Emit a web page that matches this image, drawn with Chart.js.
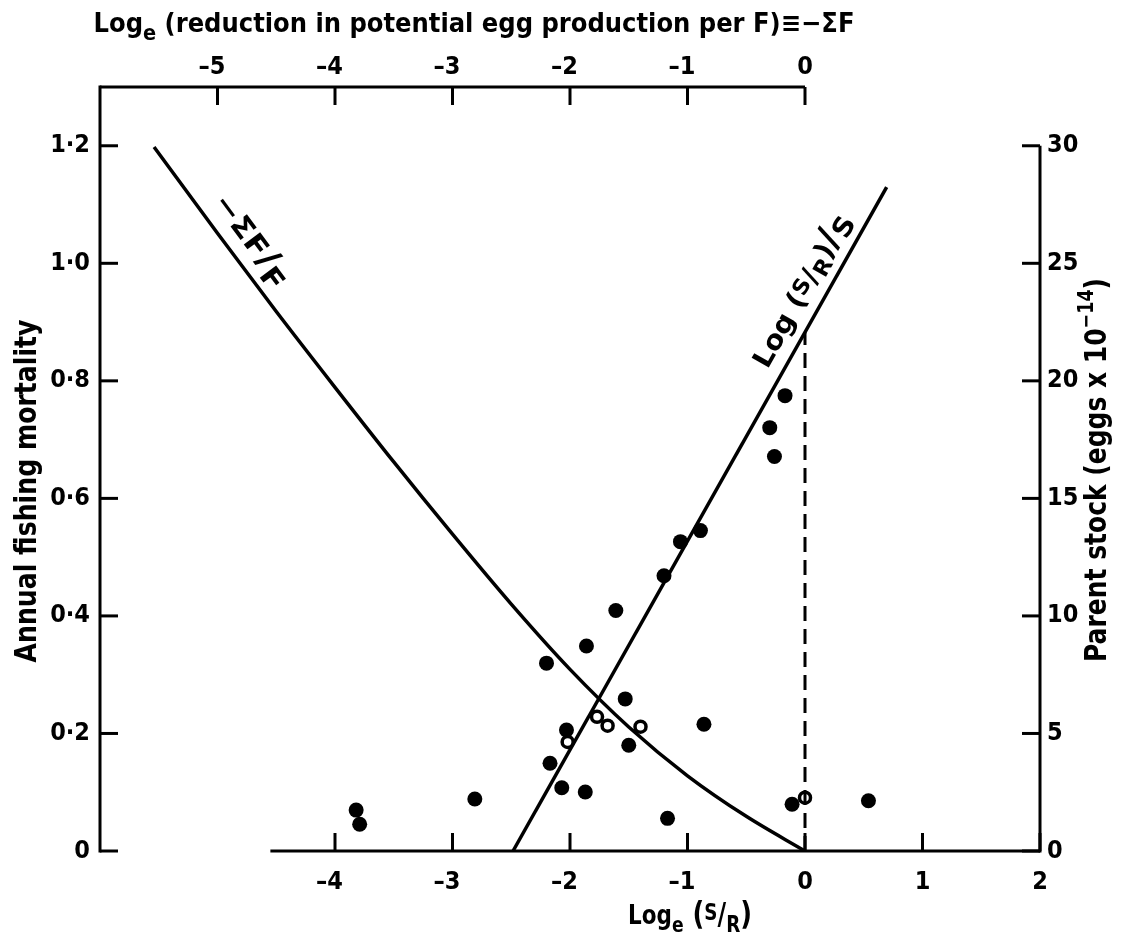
<!DOCTYPE html>
<html>
<head>
<meta charset="utf-8">
<script src="https://cdn.jsdelivr.net/npm/chart.js@4.4.1/dist/chart.umd.min.js"></script>
<style>
  html, body { margin: 0; padding: 0; background: #fff; }
  #wrap { width: 1129px; height: 948px; }
</style>
</head>
<body>
<div id="wrap"><canvas id="stockChart"></canvas></div>
<script>
// -ΣF/F curve: x = -ΣF (top axis), y = annual fishing mortality (left axis)
const sumFX = [-5.54, -5.0, -4.5, -4.0, -3.5, -3.0, -2.5, -2.0, -1.5, -1.0, -0.5, 0];
const sumFY = [1.198, 1.051, 0.918, 0.789, 0.662, 0.539, 0.420, 0.309, 0.211, 0.128, 0.059, 0];

// Log(S/R)/S line: x = loge(S/R), y = parent stock (right axis)
const lineX = [-2.485, 0.695];
const lineY = [0, 28.24];

// dashed marker at loge(S/R) = 0
const dashX = [0, 0];
const dashY = [0, 22.07];

// observed years, filled circles
const solidX = [-3.82, -3.79, -2.81, -2.20, -2.17, -2.07, -2.03, -1.87, -1.86, -1.61, -1.53,
                -1.50, -1.20, -1.17, -1.06, -0.89, -0.86, -0.30, -0.26, -0.17, -0.11, 0.54];
const solidY = [1.74, 1.14, 2.21, 7.99, 3.73, 2.69, 5.15, 2.51, 8.72, 10.23, 6.47,
                4.50, 11.71, 1.39, 13.16, 13.63, 5.39, 18.01, 16.78, 19.37, 1.99, 2.14];

// open circles
const openX = [-2.02, -1.77, -1.68, -1.40, 0];
const openY = [4.64, 5.71, 5.33, 5.29, 2.27];

// tick values
const bottomTicks = [-4, -3, -2, -1, 0, 1, 2];
const topTicks = [-5, -4, -3, -2, -1, 0];
const leftTicks = [0, 0.2, 0.4, 0.6, 0.8, 1.0, 1.2];
const rightTicks = [0, 5, 10, 15, 20, 25, 30];

const FONT = '"DejaVu Sans Condensed", "DejaVu Sans", sans-serif';
const tickFont = { family: FONT, size: 25, weight: 'bold' };

const pts = (xs, ys) => xs.map((v, i) => ({ x: v, y: ys[i] }));
const signed = v => v < 0 ? '\u2013' + Math.abs(v) + '\u2002' : String(v);
const dotted = v => v === 0 ? '0' : v.toFixed(1).replace('.', '\u00b7');

// text with sub/superscripts, squeezed to a given width
function drawRich(ctx, parts, cx, cy, angle, size, width) {
    ctx.save();
    ctx.translate(cx, cy);
    ctx.rotate(angle);
    let total = 0;
    parts.forEach(p => {
        ctx.font = `bold ${size * (p.s || 1)}px ${FONT}`;
        p.w = ctx.measureText(p.t).width;
        total += p.w;
    });
    if (width) ctx.scale(width / total, 1);
    ctx.textAlign = 'left';
    ctx.textBaseline = 'alphabetic';
    ctx.fillStyle = '#000';
    let x = -total / 2;
    parts.forEach(p => {
        ctx.font = `bold ${size * (p.s || 1)}px ${FONT}`;
        ctx.fillText(p.t, x, size * 0.36 + (p.dy || 0) * size);
        x += p.w;
    });
    ctx.restore();
}

const frame = {
    id: 'frame',
    afterDraw(chart) {
        const { ctx } = chart;
        const { x, xTop, y, yR } = chart.scales;
        const TL = 18;
        ctx.save();
        ctx.strokeStyle = '#000';
        ctx.lineWidth = 3;
        const seg = (x1, y1, x2, y2) => {
            ctx.beginPath(); ctx.moveTo(x1, y1); ctx.lineTo(x2, y2); ctx.stroke();
        };
        const y0 = y.getPixelForValue(0);
        const yTop = y.getPixelForValue(1.3);
        const xl = x.getPixelForValue(-6);
        const xr = x.getPixelForValue(2);

        // axis lines (partial, as in the original)
        seg(x.getPixelForValue(-4.55), y0, xr, y0);
        seg(xl, yTop, xTop.getPixelForValue(0), yTop);
        seg(xl, y0 + 1.5, xl, yTop - 1.5);
        seg(xr, y0 + 1.5, xr, yR.getPixelForValue(30));

        // inward tick marks
        x.ticks.forEach(t => { const p = x.getPixelForValue(t.value); seg(p, y0, p, y0 - TL); });
        xTop.ticks.forEach(t => { const p = xTop.getPixelForValue(t.value); seg(p, yTop, p, yTop + TL); });
        y.ticks.forEach(t => { const p = y.getPixelForValue(t.value); seg(xl, p, xl + TL, p); });
        yR.ticks.forEach(t => { const p = yR.getPixelForValue(t.value); seg(xr, p, xr - TL, p); });
        ctx.restore();

        // axis titles
        drawRich(ctx, [
            { t: 'Log' }, { t: 'e', s: 0.8, dy: 0.32 },
            { t: ' (reduction in potential egg production per F)\u2261\u2212\u03a3F' }
        ], 474, 22, 0, 27, 761);
        drawRich(ctx, [
            { t: 'Log' }, { t: 'e', s: 0.8, dy: 0.32 }, { t: ' (', s: 1.2 },
            { t: 'S', s: 0.85, dy: -0.12 }, { t: '/', s: 1.1 }, { t: 'R', s: 0.85, dy: 0.3 },
            { t: ')', s: 1.2 }
        ], 690, 914, 0, 27, 124);
        drawRich(ctx, [{ t: 'Annual fishing mortality' }], 25, 491, -Math.PI / 2, 30, 343);
        drawRich(ctx, [
            { t: 'Parent stock (eggs x 10' }, { t: '\u221214', s: 0.7, dy: -0.42 }, { t: ')' }
        ], 1095, 470, -Math.PI / 2, 30, 384);

        // curve labels, placed beside the curves
        const px = (sc, v) => sc.getPixelForValue(v);
        const a1 = Math.atan2(px(y, sumFY[2]) - px(y, sumFY[0]), px(xTop, sumFX[2]) - px(xTop, sumFX[0]));
        const c1x = px(xTop, -4.85), c1y = px(y, 1.018);
        drawRich(ctx, [
            { t: '\u2212\u03a3F' }, { t: '/', s: 1.2 }, { t: 'F', dy: 0.25 }
        ], c1x + 22 * Math.sin(a1), c1y - 22 * Math.cos(a1), a1, 28, 108);

        const a2 = Math.atan2(px(yR, lineY[1]) - px(yR, lineY[0]), px(x, lineX[1]) - px(x, lineX[0]));
        const lx = 0.146, ly = lineY[0] + (lx - lineX[0]) * (lineY[1] - lineY[0]) / (lineX[1] - lineX[0]);
        const c2x = px(x, lx), c2y = px(yR, ly);
        drawRich(ctx, [
            { t: 'Log (' }, { t: 'S', s: 0.8, dy: -0.15 }, { t: '/' }, { t: 'R', s: 0.8, dy: 0.2 },
            { t: ')' }, { t: '/', s: 1.3 }, { t: 'S', dy: 0.2 }
        ], c2x + 24 * Math.sin(a2), c2y - 24 * Math.cos(a2), a2, 27, 172);
    }
};

const noGrid = { display: false, drawTicks: false };
const noBorder = { display: false };

new Chart(document.getElementById('stockChart').getContext('2d'), {
    type: 'scatter',
    data: {
        datasets: [
            {
                type: 'line',
                label: '-\u03a3F/F',
                data: pts(sumFX, sumFY),
                xAxisID: 'xTop', yAxisID: 'y',
                borderColor: '#000', borderWidth: 3.5,
                pointRadius: 0, cubicInterpolationMode: 'monotone', fill: false
            },
            {
                type: 'line',
                label: 'Log(S/R)/S',
                data: pts(lineX, lineY),
                xAxisID: 'x', yAxisID: 'yR',
                borderColor: '#000', borderWidth: 3.5, pointRadius: 0, fill: false
            },
            {
                type: 'line',
                label: 'loge(S/R) = 0',
                data: pts(dashX, dashY),
                xAxisID: 'x', yAxisID: 'yR',
                borderColor: '#000', borderWidth: 3, borderDash: [15, 8],
                pointRadius: 0, fill: false
            },
            {
                label: 'years',
                data: pts(solidX, solidY),
                xAxisID: 'x', yAxisID: 'yR',
                pointRadius: 7.5, backgroundColor: '#000', borderColor: '#000', borderWidth: 0
            },
            {
                label: 'open',
                data: pts(openX, openY),
                xAxisID: 'x', yAxisID: 'yR',
                pointRadius: 5.5, backgroundColor: '#fff', borderColor: '#000', borderWidth: 3.5
            }
        ]
    },
    options: {
        responsive: true,
        maintainAspectRatio: false,
        animation: false,
        layout: { padding: 0 },
        plugins: { legend: { display: false }, tooltip: { enabled: false } },
        scales: {
            x: {
                type: 'linear', position: 'bottom', min: -6, max: 2,
                grid: noGrid, border: noBorder,
                afterBuildTicks: s => { s.ticks = bottomTicks.map(v => ({ value: v })); },
                afterFit: s => { s.height = 97; },
                ticks: { font: tickFont, color: '#000', padding: 16, maxRotation: 0, autoSkip: false, callback: signed }
            },
            xTop: {
                type: 'linear', position: 'top', min: -6, max: 2,
                grid: noGrid, border: noBorder,
                afterBuildTicks: s => { s.ticks = topTicks.map(v => ({ value: v })); },
                afterFit: s => { s.height = 87; },
                ticks: { font: tickFont, color: '#000', padding: 5, maxRotation: 0, autoSkip: false, callback: signed }
            },
            y: {
                type: 'linear', position: 'left', min: 0, max: 1.3,
                grid: noGrid, border: noBorder,
                afterBuildTicks: s => { s.ticks = leftTicks.map(v => ({ value: v })); },
                afterFit: s => { s.width = 100; },
                ticks: { font: tickFont, color: '#000', padding: 10, autoSkip: false, callback: dotted }
            },
            yR: {
                type: 'linear', position: 'right', min: 0, max: 32.5,
                grid: noGrid, border: noBorder,
                afterBuildTicks: s => { s.ticks = rightTicks.map(v => ({ value: v })); },
                afterFit: s => { s.width = 89; },
                ticks: { font: tickFont, color: '#000', padding: 7, autoSkip: false }
            }
        }
    },
    plugins: [frame]
});
</script>
</body>
</html>
